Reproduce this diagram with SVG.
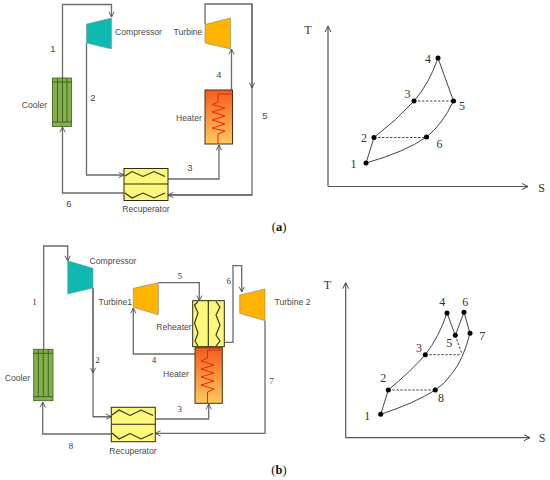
<svg xmlns="http://www.w3.org/2000/svg" width="550" height="480" viewBox="0 0 550 480">
<style>
text{font-family:"Liberation Sans",Arial,sans-serif;font-size:8.600px;fill:#4a4a4a;text-anchor:middle;dominant-baseline:central}
.n text{font-size:9.500px}
.s text{font-family:"Liberation Serif","Times New Roman",serif;font-size:9px;fill:#333}
.s .p text{font-size:12px}
.cap{font-family:"Liberation Serif","Times New Roman",serif;font-size:12.500px;fill:#111}
.c{fill:none;stroke:#6a6a6a;stroke-width:1.300}
.ax{fill:none;stroke:#555;stroke-width:1.200}
.cur{fill:none;stroke:#444;stroke-width:1}
.d{fill:none;stroke:#444;stroke-width:1;stroke-dasharray:2.500 1.500}
.dot{fill:#000}
.comp{fill:#0fb8b0;stroke:#7a9a9a;stroke-width:.6}
.turb{fill:#ffb400;stroke:#8a8060;stroke-width:.6}
.cool{fill:#82b04a;stroke:#3d5a20;stroke-width:.8}
.cl{fill:none;stroke:#33501c;stroke-width:.8}
.hx{fill:#fdf77c;stroke:#2b2b10;stroke-width:1}
.z{fill:none;stroke:#2b2b10;stroke-width:1.100}
.coil{fill:none;stroke:#e02a10;stroke-width:1}
.heat{fill:url(#hg);stroke:#4a3010;stroke-width:1}
</style>
<defs>
<linearGradient id="hg" x1="0" y1="0" x2="0" y2="1"><stop offset="0" stop-color="#f55c1c"/><stop offset="1" stop-color="#ffc95f"/></linearGradient>
<marker id="a" viewBox="0 0 8 8" refX="7" refY="4" markerWidth="7" markerHeight="7" markerUnits="userSpaceOnUse" orient="auto"><path d="M1 1L7 4L1 7" fill="none" stroke="#555" stroke-width="1.100"/></marker>
<marker id="t" viewBox="0 0 8 8" refX="7" refY="4" markerWidth="8" markerHeight="8" markerUnits="userSpaceOnUse" orient="auto"><path d="M1 1L7 4L1 7" fill="none" stroke="#444" stroke-width="1"/></marker>
</defs>

<g id="connectors">
<path class="c" marker-end="url(#a)" d="M62.500 78V4.500H111.500V17"/>
<path class="c" marker-end="url(#a)" d="M86.500 43V175H124"/>
<path class="c" marker-end="url(#a)" d="M231.500 90V49"/>
<path class="c" d="M205 24V4H252V195H168"/>
<path class="c" marker-end="url(#a)" d="M252 4V88"/>
<path class="c" marker-end="url(#a)" d="M252 195H168"/>
<path class="c" marker-end="url(#a)" d="M168 179H219V145"/>
<path class="c" marker-end="url(#a)" d="M124 193H62.500V127"/>
<path class="c" marker-end="url(#a)" d="M43.700 349V246H67.700V261"/>
<path class="c" d="M93 288V416.700H111"/>
<path class="c" marker-end="url(#a)" d="M93 288V373"/>
<path class="c" marker-end="url(#a)" d="M93 416.700H111.300"/>
<path class="c" marker-end="url(#a)" d="M111.300 434H42.700V402"/>
<path class="c" marker-end="url(#a)" d="M155.300 419H208.700V404"/>
<path class="c" marker-end="url(#a)" d="M265 321V433.300H155.300"/>
<path class="c" marker-end="url(#a)" d="M224.700 342.300H233V265.700H241.700V292"/>
<path class="c" marker-end="url(#a)" d="M158.300 282.700H199.300V300.700"/>
<path class="c" marker-end="url(#a)" d="M195 354H133.300V308"/>
</g>

<g id="a-compressor"><polygon class="comp" points="86.500,24 111.500,18 111.500,49 86.500,43"/><text x="138.500" y="32">Compressor</text></g>
<g id="a-turbine"><polygon class="turb" points="205,24.500 230.500,18 230.500,49 205,43"/><text x="188" y="32">Turbine</text></g>
<g id="a-cooler"><rect class="cool" x="52.500" y="78" width="19" height="48.500"/><path class="cl" d="M52.500 82H71.500M52.500 122H71.500M57.500 78V122M62.500 78V122M67 78V122"/><text x="34.500" y="105">Cooler</text></g>
<g id="a-heater"><rect class="heat" x="205" y="90" width="27.500" height="54"/><path class="coil" d="M232 94H218V102L212 104.500L225 108L212 112L225 116L212 120L225 124L212 128L225 131L218 134V144"/><text x="189" y="118">Heater</text></g>
<g id="a-recuperator"><rect class="hx" x="124" y="168.500" width="44" height="32"/><path class="z" d="M124 184H168M125 176L132 171.500L143 176.500L154 171.500L165 176.500M125 193L132 198L143 193L154 198L165 193"/><text x="146" y="208.500">Recuperator</text></g>
<g id="a-labels" class="n"><text x="53" y="48">1</text><text x="93" y="97.500">2</text><text x="190" y="167">3</text><text x="219" y="74.500">4</text><text x="265" y="115">5</text><text x="69" y="203">6</text></g>

<g id="a-ts" class="s">
<path class="ax" marker-end="url(#t)" d="M328 186.500V26"/><path class="ax" marker-end="url(#t)" d="M328 186.500H528"/>
<path class="cur" d="M366 163L374 137.500Q397 120 414 101Q429 84 438 58L453.500 101Q442 125 426.500 137Q405 152 366 163"/>
<path class="d" d="M374 137.500H426.500M414 101H453.500"/>
<circle class="dot" cx="366" cy="163" r="2.500"/><circle class="dot" cx="374" cy="137.500" r="2.500"/><circle class="dot" cx="414" cy="101" r="2.500"/><circle class="dot" cx="438" cy="58" r="2.500"/><circle class="dot" cx="453.500" cy="101" r="2.500"/><circle class="dot" cx="426.500" cy="137" r="2.500"/>
<g class="p"><text x="308" y="30">T</text><text x="541.500" y="188">S</text><text x="353.500" y="164">1</text><text x="364" y="138">2</text><text x="407.500" y="94">3</text><text x="428" y="58.500">4</text><text x="462" y="105.500">5</text><text x="439.500" y="143.500">6</text></g>
</g>

<text class="cap" x="279" y="227"><tspan>(</tspan><tspan font-weight="bold">a</tspan><tspan>)</tspan></text>

<g id="b-compressor"><polygon class="comp" points="67.700,260.700 93,268.300 93,288 67.700,294"/><text x="113" y="260.700">Compressor</text></g>
<g id="b-turbine1"><polygon class="turb" points="133.300,288.300 158.300,282.700 158.300,314.700 133.300,307.300"/><text x="115.300" y="301.700">Turbine1</text></g>
<g id="b-turbine2"><polygon class="turb" points="239.700,295 265,289 265,320.700 239.700,313.300"/><text x="292.500" y="302">Turbine 2</text></g>
<g id="b-cooler"><rect class="cool" x="33.700" y="349.300" width="19.300" height="51.400"/><path class="cl" d="M33.700 353.300H53M33.700 396.700H53M38.300 349.300V396.700M43.300 349.300V396.700M48.300 349.300V396.700"/><text x="17.500" y="377.500">Cooler</text></g>
<g id="b-reheater"><rect class="hx" x="192.700" y="300.700" width="31.600" height="46"/><path class="z" d="M208.300 300.700V346.700M198 301.500L194.500 305L198 313L194.500 323L198 333L195 341L198 346M216 301.500L220 307L216 315L220 325L216 335L220 341L216 346"/><text x="174" y="326.500">Reheater</text></g>
<g id="b-heater"><rect class="heat" x="195" y="347.700" width="27.300" height="55.600"/><path class="coil" d="M222 350H207.500V358L201 361L214 365L201 369L214 373L201 377L214 381L201 385L214 389L207.500 392V403"/><text x="176" y="374">Heater</text></g>
<g id="b-recuperator"><rect class="hx" x="111.300" y="407.300" width="44" height="34.400"/><path class="z" d="M111.300 424.300H155.300M112 415L119 410L130 415.500L141 410L153 415.500M112 433L119 439L130 433.500L141 439L153 433.500"/><text x="133" y="451">Recuperator</text></g>
<g id="b-labels" class="s"><text x="34.500" y="302">1</text><text x="97.500" y="359.500">2</text><text x="179.700" y="409">3</text><text x="154" y="360">4</text><text x="179.700" y="275.500">5</text><text x="228.700" y="281">6</text><text x="271.500" y="381">7</text><text x="71" y="445.500">8</text></g>

<g id="b-ts" class="s">
<path class="ax" marker-end="url(#t)" d="M345.700 437.700V282.700"/><path class="ax" marker-end="url(#t)" d="M345.700 437.700H530"/>
<path class="cur" d="M380.700 414.300L388.300 390Q410 372 425.300 354.700Q439 337 447 313L455.300 335.300L464 312.300L470 333.300Q463 360 453 372Q445 384 435.300 390Q415 403 380.700 414.300"/>
<path class="d" d="M388.300 390H435.300M425.300 354.700H460.700M455.300 335.300L461.700 353.300"/>
<circle class="dot" cx="380.700" cy="414.300" r="2.500"/><circle class="dot" cx="388.300" cy="390" r="2.500"/><circle class="dot" cx="425.300" cy="354.700" r="2.500"/><circle class="dot" cx="447" cy="313" r="2.500"/><circle class="dot" cx="455.300" cy="335.300" r="2.500"/><circle class="dot" cx="464" cy="312.300" r="2.500"/><circle class="dot" cx="470" cy="333.300" r="2.500"/><circle class="dot" cx="435.300" cy="390" r="2.500"/>
<g class="p"><text x="327.500" y="285">T</text><text x="542" y="438">S</text><text x="367.300" y="415.700">1</text><text x="383.300" y="378.300">2</text><text x="419" y="347.700">3</text><text x="442.300" y="301.700">4</text><text x="449.300" y="343.300">5</text><text x="465.300" y="302.300">6</text><text x="482.300" y="335.700">7</text><text x="441" y="398">8</text></g>
</g>

<text class="cap" x="279" y="470"><tspan>(</tspan><tspan font-weight="bold">b</tspan><tspan>)</tspan></text>
</svg>
